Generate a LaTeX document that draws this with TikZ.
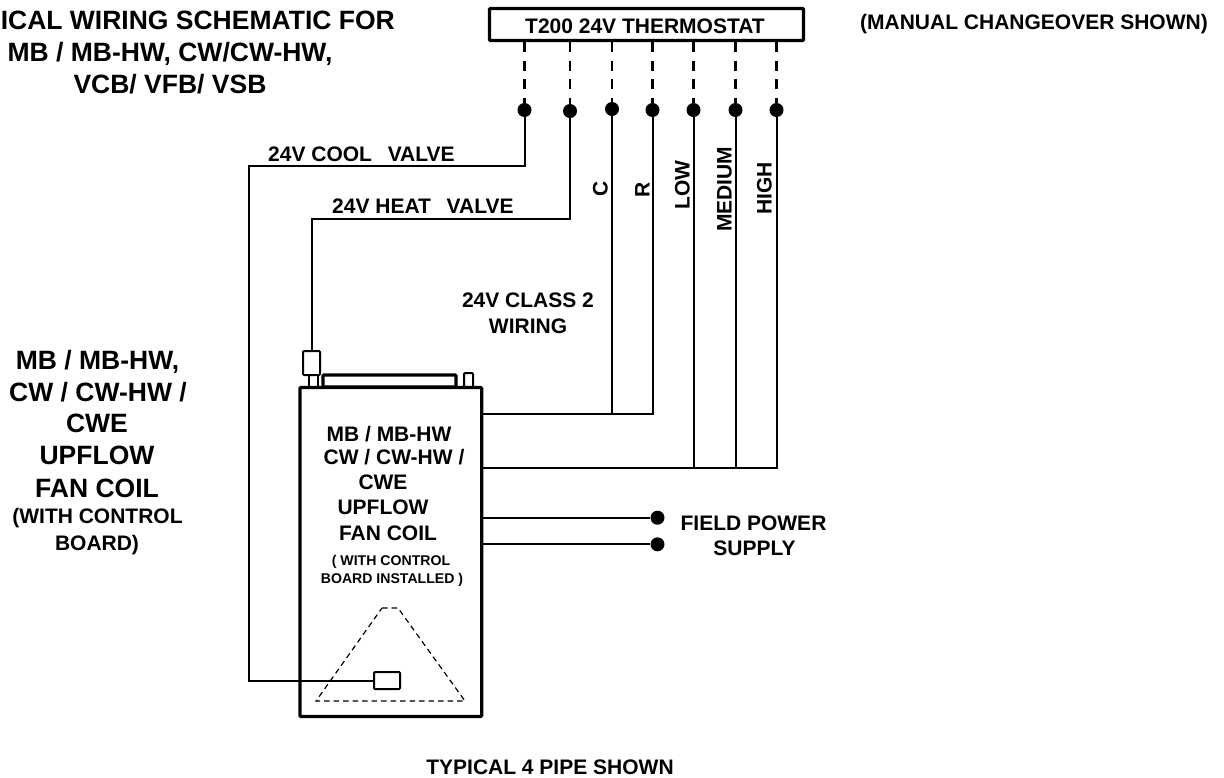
\documentclass[tikz,border=0pt]{standalone}
\usepackage{fontspec}
\setmainfont{Liberation Sans}
\usetikzlibrary{positioning}
\begin{document}
\begin{tikzpicture}[x=1pt,y=-1pt,
		wire/.style={line width=2pt},
		dashwire/.style={line width=2.2pt,dash pattern=on 10pt off 8.5pt},
		thin dash/.style={line width=1.2pt,dash pattern=on 5.5pt off 4pt},
		heavy/.style={draw,line width=3.2pt,inner sep=0pt,rounded corners=1pt},
		part/.style={draw,line width=2pt,inner sep=0pt,rounded corners=1pt},
		dot/.style={circle,fill=black,inner sep=0pt,minimum size=14pt},
		bigtext/.style={font=\bfseries\fontsize{26.5}{32}\selectfont,inner sep=0pt,text height=19pt,text depth=0pt},
		midtext/.style={font=\bfseries\fontsize{21}{26}\selectfont,inner sep=0pt,text height=15pt,text depth=0pt},
		tinytext/.style={font=\bfseries\fontsize{14.1}{17}\selectfont,inner sep=0pt,text height=10pt,text depth=0pt}]
		\useasboundingbox (0,0) rectangle (1224,777);
		\node[heavy,minimum width=314pt,minimum height=32pt] (stat) at (646.5,24.5) {};
		\node[midtext] (statlabel) at (645,26) {T200 24V THERMOSTAT};
		\node[dot] (cool) at (524.5,110) {};
		\node[dot] (heat) at (570,111) {};
		\node[dot] (c) at (612,109) {};
		\node[dot] (r) at (652.5,110) {};
		\node[dot] (low) at (693.5,110) {};
		\node[dot] (med) at (735.5,110) {};
		\node[dot] (high) at (776.5,110) {};
		\foreach \n in {cool,heat,c,r,low,med,high}
			\draw[dashwire] (\n |- stat.south) -- (\n);
		\node[heavy,minimum width=181.7pt,minimum height=329pt] (main) at (390.85,552) {};
		\node[part,minimum width=17pt,minimum height=24pt] (valve) at (311.5,363) {};
		\node[part,minimum width=26pt,minimum height=17pt] (sensor) at (387,680.5) {};
		\node[heavy,minimum width=133pt,minimum height=12pt] (plate) at (389.5,381) {};
		\node[part,minimum width=9pt,minimum height=14pt] (stub) at (468.5,380) {};
		\coordinate (leftleg) at (309,387);
		\coordinate (rightleg) at (318,387);
		\draw[wire] (leftleg) -- (leftleg |- valve.south) (rightleg) -- (rightleg |- valve.south);
		\coordinate (coolcorner) at (249,165.7);
		\coordinate (heatcorner) at (311.7,219);
		\coordinate (lowpower) at (481,414);
		\coordinate (fanpower) at (481,468);
		\draw[wire] (cool) |- (coolcorner) |- (sensor.west);
		\draw[wire] (heat) |- (heatcorner) -- (valve.north -| heatcorner);
		\draw[wire] (r) |- (lowpower);
		\draw[wire] (c) -- (c |- lowpower);
		\draw[wire] (high) |- (fanpower);
		\draw[wire] (low) -- (low |- fanpower);
		\draw[wire] (med) -- (med |- fanpower);
		\node[dot] (field1) at (657.5,517.7) {};
		\node[dot] (field2) at (657.5,544.3) {};
		\coordinate (supply1) at (481,517.7);
		\coordinate (supply2) at (481,544.3);
		\draw[wire] (supply1) -- (field1);
		\draw[wire] (supply2) -- (field2);
		\coordinate (tl) at (382,608);
		\coordinate (tr) at (398,608);
		\coordinate (br) at (465,701);
		\coordinate (bl) at (316,701);
		\draw[thin dash] (tl) -- (tr) -- (br) -- (bl) -- cycle;
		\node[bigtext,anchor=east] (title1) at (395,19.5) {ICAL WIRING SCHEMATIC FOR};
		\node[bigtext] (title2) at (170,52) {MB / MB-HW, CW/CW-HW,};
		\node[bigtext] (title3) at (170,84) {VCB/ VFB/ VSB};
		\node[midtext,anchor=east] (manual) at (1208,22) {(MANUAL CHANGEOVER SHOWN)};
		\node[midtext,anchor=west] (coollabel) at (268,153.5) {24V COOL\hspace{15.7pt}VALVE};
		\node[midtext,anchor=west] (heatlabel) at (332,205.5) {24V HEAT\hspace{15.7pt}VALVE};
		\node[midtext,rotate=90] (clabel) at (600,189) {C};
		\node[midtext,rotate=90] (rlabel) at (642,190) {R};
		\node[midtext,rotate=90,anchor=west] (lowlabel) at (682,210) {LOW};
		\node[midtext,rotate=90,anchor=west] (medlabel) at (724,232) {MEDIUM};
		\node[midtext,rotate=90,anchor=west] (highlabel) at (764,215) {HIGH};
		\node[midtext] (class1) at (528,300) {24V CLASS 2};
		\node[midtext] (class2) at (528,326) {WIRING};
		\node[bigtext] (side1) at (97.5,360) {MB / MB-HW,};
		\node[bigtext] (side2) at (98,392) {CW / CW-HW /};
		\node[bigtext] (side3) at (97,423) {CWE};
		\node[bigtext] (side4) at (97,455) {UPFLOW};
		\node[bigtext] (side5) at (97,488) {FAN COIL};
		\node[midtext] (side6) at (97.5,516) {(WITH CONTROL};
		\node[midtext] (side7) at (97,543) {BOARD)};
		\node[midtext] (in1) at (389,433.5) {MB / MB-HW};
		\node[midtext] (in2) at (394,457) {CW / CW-HW /};
		\node[midtext] (in3) at (383,482) {CWE};
		\node[midtext] (in4) at (383,507) {UPFLOW};
		\node[midtext] (in5) at (388,533) {FAN COIL};
		\node[tinytext] (in6) at (391,560) {( WITH CONTROL};
		\node[tinytext] (in7) at (392,578) {BOARD INSTALLED )};
		\node[midtext] (supply1label) at (753.5,522.5) {FIELD POWER};
		\node[midtext] (supply2label) at (754.5,548) {SUPPLY};
		\node[midtext] (pipe) at (550,766.5) {TYPICAL 4 PIPE SHOWN};
	\end{tikzpicture}
\end{document}
